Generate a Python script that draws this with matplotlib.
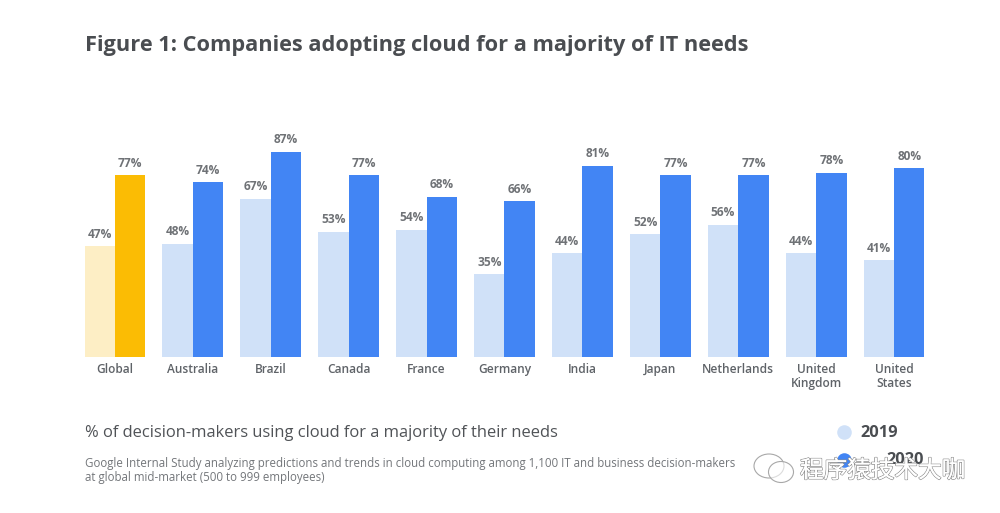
import matplotlib
matplotlib.use("Agg")
import matplotlib.pyplot as plt
import matplotlib.patheffects as pe
from matplotlib.patches import Ellipse
import numpy as np

countries = ["Global", "Australia", "Brazil", "Canada", "France", "Germany", "India",
             "Japan", "Netherlands", "United\nKingdom", "United\nStates"]
values_2019 = [47, 48, 67, 53, 54, 35, 44, 52, 56, 44, 41]
values_2020 = [77, 74, 87, 77, 68, 66, 81, 77, 77, 78, 80]

W, H = 1000, 513
plt.rcParams["font.family"] = ["Open Sans", "DejaVu Sans"]

fig = plt.figure(figsize=(W / 100, H / 100), dpi=100, facecolor="white")
ax = fig.add_axes([76 / W, 1 - 357 / H, 857 / W, 236 / H])

x = np.arange(len(countries))
width = 0.39
colors_old = ["#fdeec5"] + ["#d0e1f8"] * 10
colors_new = ["#fbbc04"] + ["#4285f4"] * 10
ax.bar(x - width / 2, values_2019, width, color=colors_old)
ax.bar(x + width / 2, values_2020, width, color=colors_new)

for i in x:
    ax.text(i - width / 2, values_2019[i] + 2.3, f"{values_2019[i]}%", ha="center", va="bottom",
            fontsize=8.6, fontweight="bold", color="#6f7276")
    ax.text(i + width / 2, values_2020[i] + 2.3, f"{values_2020[i]}%", ha="center", va="bottom",
            fontsize=8.6, fontweight="bold", color="#6f7276")

ax.set_xlim(-0.5, 10.5)
ax.set_ylim(0, 100)
ax.set_xticks(x, countries)
ax.tick_params(axis="x", length=0, pad=4, labelsize=8.6, labelcolor="#5f6368")
for lab in ax.get_xticklabels():
    lab.set_fontweight("semibold")
    lab.set_linespacing(1.12)
ax.set_yticks([])
for s in ax.spines.values():
    s.set_visible(False)
ax.patch.set_alpha(0)


def fx(px):
    return px / W


def fy(py):
    return 1 - py / H


fig.text(fx(85), fy(46), "Figure 1: Companies adopting cloud for a majority of IT needs", fontsize=15.7,
         fontweight="bold", color="#4a4d51", va="center")
fig.text(fx(85), fy(433), "% of decision-makers using cloud for a majority of their needs", fontsize=11.9,
         color="#505357", va="center")
fig.text(fx(85), fy(470), "Google Internal Study analyzing predictions and trends in cloud computing among 1,100 IT and business decision-makers\n"
         "at global mid-market (500 to 999 employees)", fontsize=8.3, color="#73767a", va="center", linespacing=1.1)

# legend
overlay = fig.add_axes([0, 0, 1, 1])
overlay.set_xlim(0, W)
overlay.set_ylim(H, 0)
overlay.axis("off")
overlay.scatter([844], [432], s=110, color="#d0e1f8", linewidths=0)
overlay.scatter([844], [460], s=110, color="#4285f4", linewidths=0)
overlay.text(860, 433, "2019", fontsize=11.8, fontweight="bold", color="#4a4d51", va="center")
overlay.text(886, 460, "2020", fontsize=11.8, fontweight="bold", color="#4a4d51", va="center")

# watermark
for cx, cy, w, h in [(769, 466, 30, 24), (781, 472, 25, 21)]:
    overlay.add_patch(Ellipse((cx, cy), w, h, facecolor=(1, 1, 1, 0.6), edgecolor="#a8a8a8", linewidth=0.8))
overlay.text(800, 471, "程序猿技术大咖", fontsize=17, family=["Noto Sans CJK SC", "DejaVu Sans"],
             color="white", va="center",
             path_effects=[pe.withStroke(linewidth=1.1, foreground="#8f8f8f"), pe.Normal()])

fig.savefig("out.png", dpi=100)
